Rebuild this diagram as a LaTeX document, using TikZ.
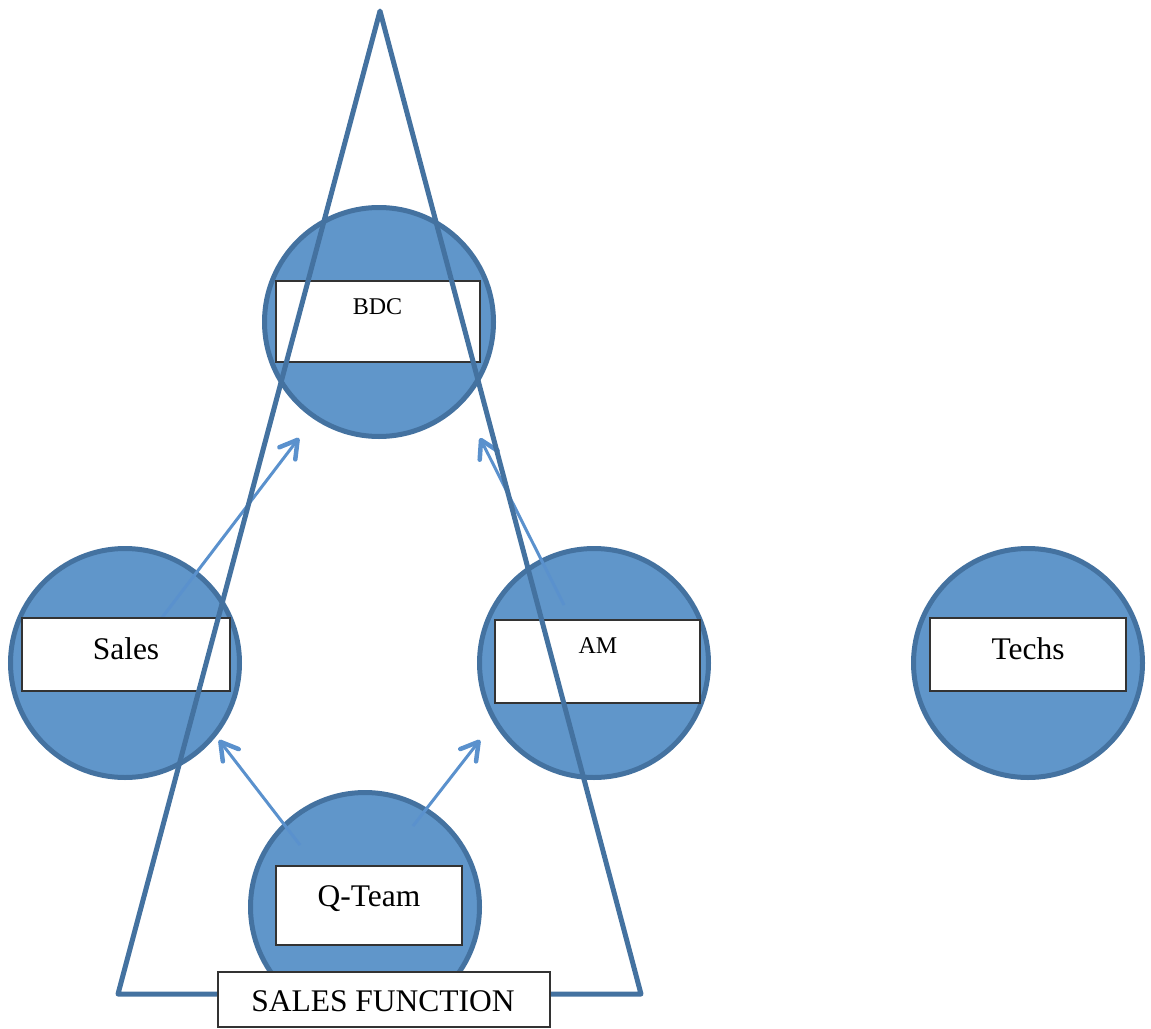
\documentclass[tikz,border=0pt]{standalone}
\usepackage{fontspec}
\setmainfont{Liberation Serif}
\usetikzlibrary{arrows.meta}
\definecolor{cfill}{RGB}{96,150,202}
\definecolor{cline}{RGB}{68,114,160}
\definecolor{carrow}{RGB}{90,145,205}
\begin{document}
\begin{tikzpicture}[x=1pt,y=-1pt,
  team/.style={circle,draw=cline,fill=cfill,line width=5pt,minimum size=229pt,inner sep=0pt},
  box/.style={draw=black!80,fill=white,line width=1.4pt,inner sep=0pt},
  big/.style={font=\fontsize{31.5}{36}\selectfont,anchor=base,inner sep=0pt},
  small/.style={font=\fontsize{24}{28}\selectfont,anchor=base,inner sep=0pt},
  arr/.style={carrow,line width=3pt,-{Straight Barb[length=17pt,width=20pt,line width=4.5pt,line cap=round,line join=round]}}]
\useasboundingbox (0,0) rectangle (1151,1028);
% circles
\node[team] (bdc) at (379,322) {};
\node[team] (sales) at (125,663) {};
\node[team] (am) at (594,663) {};
\node[team] (techs) at (1028,663) {};
\node[team] (q) at (365,907) {};
% arrows
\draw[arr] ([shift={(36,-44)}]sales.center) -- ([shift={(-80,116)}]bdc.center);
\draw[arr] ([shift={(-30,-58)}]am.center) -- ([shift={(101,116)}]bdc.center);
\draw[arr] ([shift={(-65,-62)}]q.center) -- ([shift={(94,77)}]sales.center);
\draw[arr] ([shift={(48,-81)}]q.center) -- ([shift={(-114,77)}]am.center);
% boxes
\node[box,minimum width=204pt,minimum height=81pt] (bdcbox) at (378,321.5) {};
\node[box,minimum width=208pt,minimum height=73pt] (salesbox) at (126,654.5) {};
\node[box,minimum width=205pt,minimum height=83pt] (ambox) at (597.5,661.5) {};
\node[box,minimum width=196pt,minimum height=73pt] (techsbox) at (1028,654.5) {};
\node[box,minimum width=186pt,minimum height=79pt] (qbox) at (369,905.5) {};
% texts
\node[small] (bdct) at (377.5,314) {BDC};
\node[big] (salest) at (126,659.5) {Sales};
\node[small] (amt) at (598,653) {AM};
\node[big] (techst) at (1028,659.5) {Techs};
\node[big] (qt) at (369,906) {Q-Team};
% triangle
\coordinate (apex) at (380,11);
\coordinate (bl) at (118,994);
\coordinate (br) at (641,994);
\draw[cline,line width=5pt,line join=round] (apex) -- (br) -- (bl) -- cycle;
% sales function
\node[box,minimum width=332pt,minimum height=55pt] (sfbox) at (384,999.5) {};
\node[big] (sft) at (383,1011) {SALES FUNCTION};
\end{tikzpicture}
\end{document}
